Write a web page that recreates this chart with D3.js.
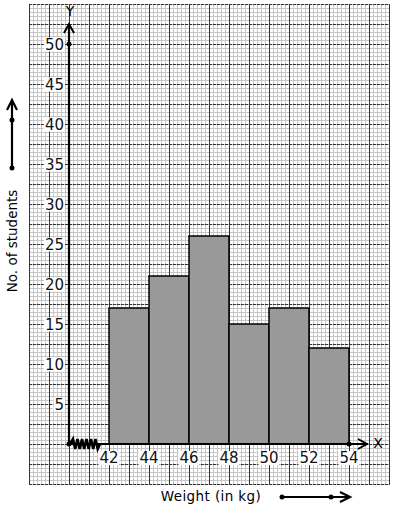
<!DOCTYPE html>
<html>
<head>
<meta charset="utf-8">
<script src="https://cdn.jsdelivr.net/npm/d3@7"></script>
<style>
  body { margin: 0; background: #fff; }
  text { font-family: "DejaVu Sans", sans-serif; }
</style>
</head>
<body>
<div id="chart"></div>
<script>
// data
var classStarts = [42, 44, 46, 48, 50, 52];
var classWidth = 2;
var frequencies = [17, 21, 26, 15, 17, 12];
var xTicks = [42, 44, 46, 48, 50, 52, 54];
var yTicks = [5, 10, 15, 20, 25, 30, 35, 40, 45, 50];

var W = 394, H = 510;
var gridLeft = 29, gridTop = 4, gridRight = 389, gridBottom = 484;

var svg = d3.select("#chart").append("svg")
  .attr("width", W).attr("height", H);

// x: 40 at origin, 1 kg = 20px ; y: 1 student = 8px
var x = d3.scaleLinear().domain([40, 56]).range([69, 389]);
var y = d3.scaleLinear().domain([0, 55]).range([444, 4]);

// graph paper
var grid = svg.append("g");
var minorV = d3.range(gridLeft, gridRight + 1, 4);
var minorH = d3.range(gridTop, gridBottom + 1, 4);
grid.selectAll(".mv").data(minorV).enter().append("line")
  .attr("x1", d => d + 0.5).attr("x2", d => d + 0.5)
  .attr("y1", gridTop).attr("y2", gridBottom)
  .attr("stroke", "#c6c6c6").attr("stroke-width", 1);
grid.selectAll(".mh").data(minorH).enter().append("line")
  .attr("y1", d => d + 0.5).attr("y2", d => d + 0.5)
  .attr("x1", gridLeft).attr("x2", gridRight)
  .attr("stroke", "#c6c6c6").attr("stroke-width", 1);
grid.selectAll(".MH").data(d3.range(gridTop, gridBottom + 1, 20)).enter().append("line")
  .attr("y1", d => d + 0.5).attr("y2", d => d + 0.5)
  .attr("x1", gridLeft).attr("x2", gridRight + 1)
  .attr("stroke", "#333").attr("stroke-width", 1)
  .attr("stroke-dasharray", "3,1");
grid.selectAll(".MV").data(d3.range(gridLeft, gridRight + 1, 20)).enter().append("line")
  .attr("x1", d => d + 0.5).attr("x2", d => d + 0.5)
  .attr("y1", gridTop).attr("y2", gridBottom + 1)
  .attr("stroke", "#333").attr("stroke-width", 1);

// bars
svg.append("g").selectAll("rect")
  .data(classStarts)
  .enter()
  .append("rect")
  .attr("x", d => x(d))
  .attr("y", (d, i) => y(frequencies[i]))
  .attr("width", d => x(d + classWidth) - x(d))
  .attr("height", (d, i) => y(0) - y(frequencies[i]))
  .attr("fill", "#999999")
  .attr("stroke", "#000")
  .attr("stroke-width", 1.5);

// labels with white background
function boxedText(g, tx, ty, txt, anchor) {
  var t = g.append("text")
    .attr("x", tx).attr("y", ty)
    .attr("text-anchor", anchor)
    .attr("font-size", 15)
    .attr("fill", "#111")
    .text(txt);
  var b = t.node().getBBox();
  g.insert("rect", "text")
    .attr("x", b.x - 1).attr("y", b.y + 2)
    .attr("width", b.width + 2).attr("height", b.height - 4)
    .attr("fill", "#fff");
}

var yl = svg.append("g");
yTicks.forEach(function (v) {
  var g = yl.append("g");
  boxedText(g, 64, y(v) + 5.5, v, "end");
});
var xl = svg.append("g");
xTicks.forEach(function (v) {
  var g = xl.append("g");
  boxedText(g, x(v), 463, v, "middle");
});

// axes
var ax = svg.append("g").attr("stroke", "#000").attr("fill", "none");
ax.append("line").attr("x1", x(40)).attr("x2", x(40))
  .attr("y1", y(0)).attr("y2", 24).attr("stroke-width", 2.2);
ax.append("path").attr("d", "M64,33 L69,24 L74,33").attr("stroke-width", 2);
ax.append("line").attr("x1", x(40)).attr("x2", 368)
  .attr("y1", y(0)).attr("y2", y(0)).attr("stroke-width", 2.2);
ax.append("path").attr("d", "M358,439 L367,444 L358,449").attr("stroke-width", 2);
// kink on x axis
var zz = "M70,444";
for (var i = 0; i < 6; i++) {
  var sx = 73 + i * 4.5;
  zz += " L" + sx + ",439 L" + (sx + 2.2) + ",449";
}
zz += " L100,444";
ax.append("path").attr("d", zz).attr("stroke-width", 2.6);

svg.append("g").selectAll("circle")
  .data([[x(40), y(0)], [x(40), y(50)], [x(54), y(0)]])
  .enter().append("circle")
  .attr("cx", d => d[0]).attr("cy", d => d[1]).attr("r", 2.5).attr("fill", "#000");

svg.append("text").attr("x", 70).attr("y", 16).attr("text-anchor", "middle")
  .attr("font-size", 14).text("Y");
svg.append("text").attr("x", 378).attr("y", 448).attr("text-anchor", "middle")
  .attr("font-size", 14).text("X");

// axis titles
svg.append("text")
  .attr("transform", "translate(17,241) rotate(-90)")
  .attr("text-anchor", "middle")
  .attr("font-size", 13.5)
  .text("No. of students");
svg.append("text")
  .attr("x", 211).attr("y", 501)
  .attr("text-anchor", "middle")
  .attr("font-size", 13.5)
  .attr("letter-spacing", 0.4)
  .text("Weight (in kg)");

// direction arrows next to titles
var da = svg.append("g").attr("stroke", "#000").attr("fill", "none").attr("stroke-width", 2.2);
da.append("line").attr("x1", 12).attr("x2", 12).attr("y1", 168).attr("y2", 101);
da.append("path").attr("d", "M7,110 L12,100 L17,110");
da.append("line").attr("x1", 282).attr("x2", 350).attr("y1", 497).attr("y2", 497);
da.append("path").attr("d", "M340,492 L350,497 L340,502");
svg.append("g").selectAll("circle")
  .data([[12, 168], [12, 120], [282, 497], [331, 497]])
  .enter().append("circle")
  .attr("cx", d => d[0]).attr("cy", d => d[1]).attr("r", 2.5).attr("fill", "#000");
</script>
</body>
</html>
